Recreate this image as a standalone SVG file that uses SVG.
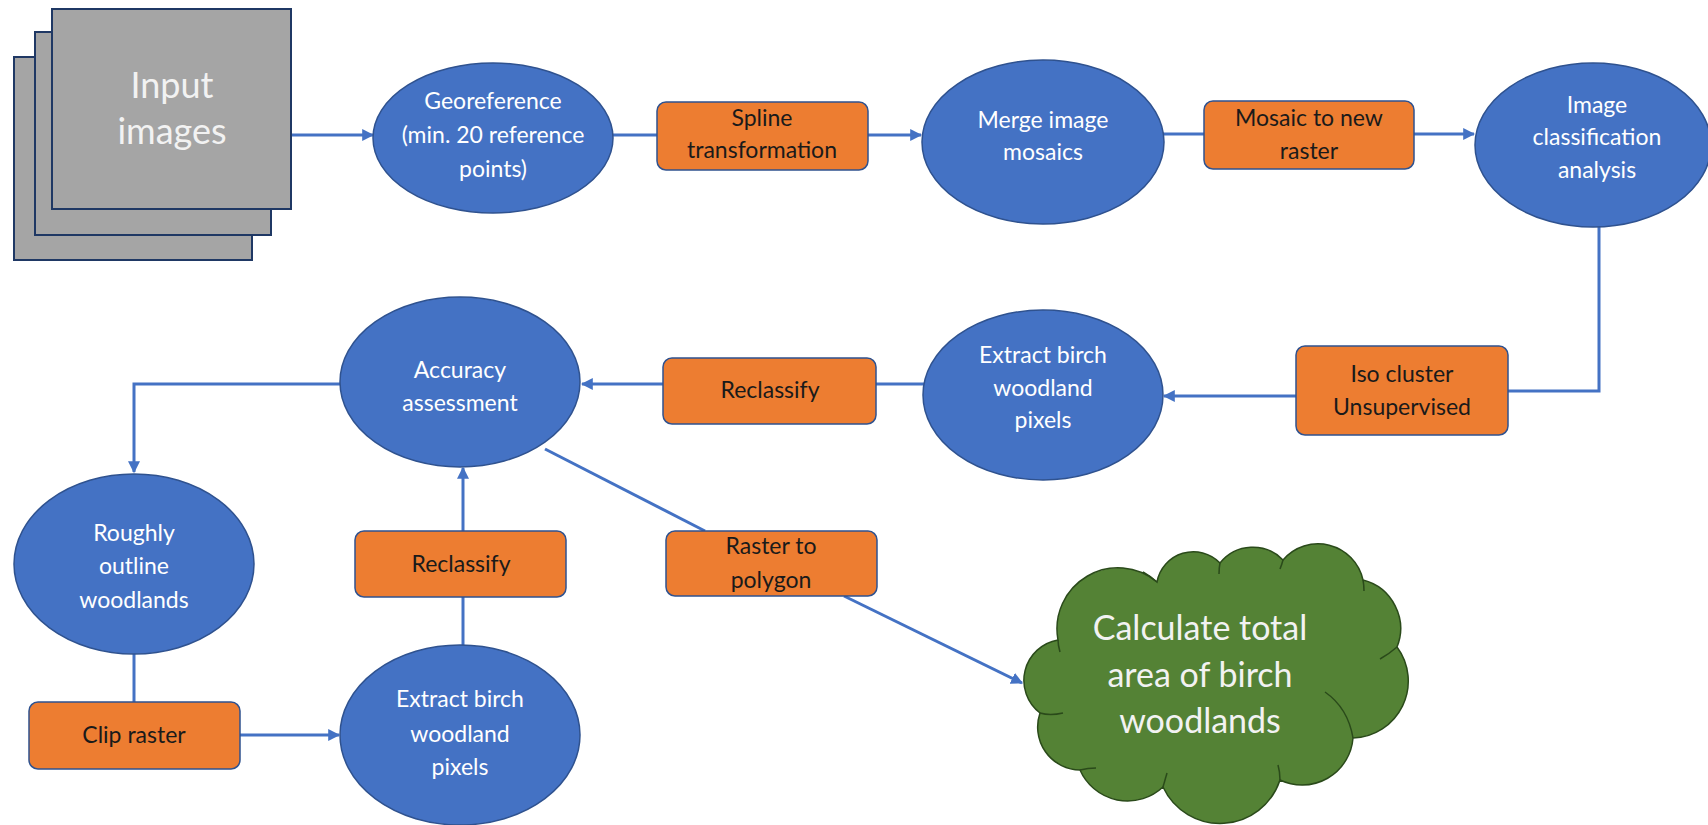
<svg xmlns="http://www.w3.org/2000/svg" width="1708" height="825" viewBox="0 0 1708 825">
<style>
.ell{fill:#4472C4;stroke:#2F528F;stroke-width:1.5}
.box{fill:#ED7D31;stroke:#2F528F;stroke-width:1.5}
.img{fill:#A5A5A5;stroke:#1F3864;stroke-width:2}
.wt{font-family:Lato,"Open Sans",sans-serif;font-size:23px;fill:#FFFFFF;text-anchor:middle}
.bt{font-family:Lato,"Open Sans",sans-serif;font-size:23px;fill:#1A1A1A;text-anchor:middle}
.big{font-family:Lato,"Open Sans",sans-serif;font-size:34px;fill:#F2F2F2;text-anchor:middle}
.con{fill:none;stroke:#4472C4;stroke-width:3}
.arr{marker-end:url(#ah)}
.crease{fill:none;stroke:#2A4A1A;stroke-width:1.5}
</style>
<defs>
<marker id="ah" viewBox="0 0 10 10" refX="9" refY="5" markerWidth="4" markerHeight="4" orient="auto" markerUnits="strokeWidth">
<path d="M0,0 L10,5 L0,10 z" fill="#4472C4"/>
</marker>
</defs>
<rect width="1708" height="825" fill="#FFFFFF"/>
<g id="connectors">
<line class="con arr" x1="291" y1="135" x2="373" y2="135"/>
<line class="con" x1="613" y1="135" x2="657" y2="135"/>
<line class="con arr" x1="868" y1="135" x2="921" y2="135"/>
<line class="con" x1="1163" y1="134" x2="1204" y2="134"/>
<line class="con arr" x1="1414" y1="134" x2="1474" y2="134"/>
<polyline class="con" points="1599,226 1599,391 1508,391"/>
<line class="con arr" x1="1296" y1="396" x2="1164" y2="396"/>
<line class="con" x1="924" y1="384" x2="876" y2="384"/>
<line class="con arr" x1="663" y1="384" x2="582" y2="384"/>
<polyline class="con arr" points="340,384 134,384 134,472"/>
<line class="con" x1="134" y1="654" x2="134" y2="702"/>
<line class="con arr" x1="240" y1="735" x2="339" y2="735"/>
<line class="con" x1="463" y1="645" x2="463" y2="597"/>
<line class="con arr" x1="463" y1="531" x2="463" y2="468"/>
<line class="con" x1="545" y1="449" x2="705" y2="531"/>
<line class="con arr" x1="844" y1="596" x2="1022" y2="683"/>
</g>
<g id="input-images">
<rect class="img" x="14" y="57" width="238" height="203"/>
<rect class="img" x="35" y="32" width="236" height="203"/>
<rect class="img" x="52" y="9" width="239" height="200"/>
<text class="big" style="font-size:36px" x="172" y="98">Input</text>
<text class="big" style="font-size:36px" x="172" y="144">images</text>
</g>
<g id="georeference">
<ellipse class="ell" cx="493" cy="138" rx="120" ry="75"/>
<text class="wt" x="493" y="109">Georeference</text>
<text class="wt" x="493" y="143">(min. 20 reference</text>
<text class="wt" x="493" y="177">points)</text>
</g>
<g id="spline">
<rect class="box" x="657" y="102" width="211" height="68" rx="9"/>
<text class="bt" x="762" y="126">Spline</text>
<text class="bt" x="762" y="158">transformation</text>
</g>
<g id="merge">
<ellipse class="ell" cx="1043" cy="142" rx="121" ry="82"/>
<text class="wt" x="1043" y="128">Merge image</text>
<text class="wt" x="1043" y="160">mosaics</text>
</g>
<g id="mosaic">
<rect class="box" x="1204" y="101" width="210" height="68" rx="9"/>
<text class="bt" x="1309" y="126">Mosaic to new</text>
<text class="bt" x="1309" y="159">raster</text>
</g>
<g id="classification">
<ellipse class="ell" cx="1593" cy="145" rx="118" ry="82"/>
<text class="wt" x="1597" y="113">Image</text>
<text class="wt" x="1597" y="145">classification</text>
<text class="wt" x="1597" y="178">analysis</text>
</g>
<g id="iso-cluster">
<rect class="box" x="1296" y="346" width="212" height="89" rx="9"/>
<text class="bt" x="1402" y="382">Iso cluster</text>
<text class="bt" x="1402" y="415">Unsupervised</text>
</g>
<g id="extract-top">
<ellipse class="ell" cx="1043" cy="395" rx="120" ry="85"/>
<text class="wt" x="1043" y="363">Extract birch</text>
<text class="wt" x="1043" y="396">woodland</text>
<text class="wt" x="1043" y="428">pixels</text>
</g>
<g id="reclassify-top">
<rect class="box" x="663" y="358" width="213" height="66" rx="9"/>
<text class="bt" x="770" y="398">Reclassify</text>
</g>
<g id="accuracy">
<ellipse class="ell" cx="460" cy="382" rx="120" ry="85"/>
<text class="wt" x="460" y="378">Accuracy</text>
<text class="wt" x="460" y="411">assessment</text>
</g>
<g id="roughly">
<ellipse class="ell" cx="134" cy="564" rx="120" ry="90"/>
<text class="wt" x="134" y="541">Roughly</text>
<text class="wt" x="134" y="574">outline</text>
<text class="wt" x="134" y="608">woodlands</text>
</g>
<g id="clip-raster">
<rect class="box" x="29" y="702" width="211" height="67" rx="9"/>
<text class="bt" x="134" y="743">Clip raster</text>
</g>
<g id="extract-bottom">
<ellipse class="ell" cx="460" cy="735" rx="120" ry="90"/>
<text class="wt" x="460" y="707">Extract birch</text>
<text class="wt" x="460" y="742">woodland</text>
<text class="wt" x="460" y="775">pixels</text>
</g>
<g id="reclassify-bottom">
<rect class="box" x="355" y="531" width="211" height="66" rx="9"/>
<text class="bt" x="461" y="572">Reclassify</text>
</g>
<g id="raster-to-polygon">
<rect class="box" x="666" y="531" width="211" height="65" rx="9"/>
<text class="bt" x="771" y="554">Raster to</text>
<text class="bt" x="771" y="588">polygon</text>
</g>
<g id="calculate">
<path d="M1040,713 A41,41 0 0 1 1058,640 A61,61 0 0 1 1157,582 A37,37 0 0 1 1220,563 A42,42 0 0 1 1283,560 A46,46 0 0 1 1363,580 A50,50 0 0 1 1397,647 A57,57 0 0 1 1353,738 A51,51 0 0 1 1280,780 A63,63 0 0 1 1163,787 A52,52 0 0 1 1080,770 A43,43 0 0 1 1040,713 Z" fill="#548235" stroke="#2A4A1A" stroke-width="1.5"/>
<path class="crease" d="M1040,713 Q1050,716 1063,713"/>
<path class="crease" d="M1058,640 Q1058,645 1060,652"/>
<path class="crease" d="M1157,582 Q1150,576 1143,572"/>
<path class="crease" d="M1220,563 Q1219,568 1219,574"/>
<path class="crease" d="M1283,560 Q1282,564 1280,569"/>
<path class="crease" d="M1363,580 Q1364,585 1364,591"/>
<path class="crease" d="M1397,647 Q1389,654 1380,659"/>
<path class="crease" d="M1325,692 Q1348,708 1353,738"/>
<path class="crease" d="M1280,780 Q1280,772 1278,765"/>
<path class="crease" d="M1163,787 Q1165,780 1167,773"/>
<path class="crease" d="M1080,770 Q1088,768 1096,768"/>
<text class="big" x="1200" y="640">Calculate total</text>
<text class="big" x="1200" y="687">area of birch</text>
<text class="big" x="1200" y="733">woodlands</text>
</g>
</svg>
